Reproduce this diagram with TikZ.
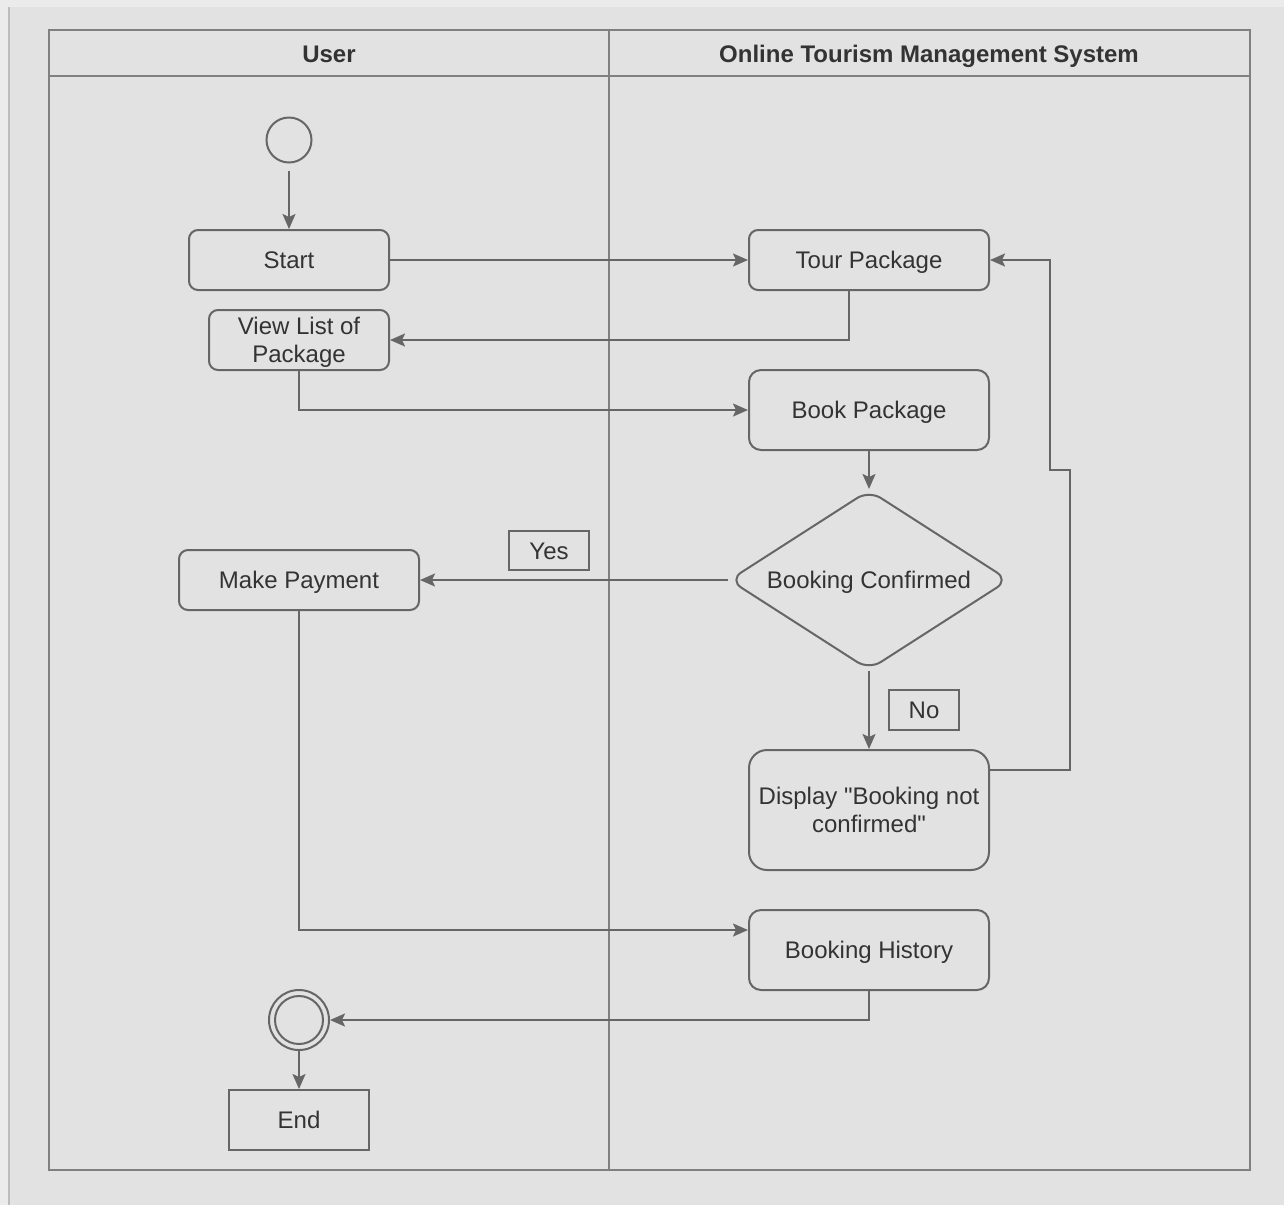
\documentclass[tikz,border=0pt]{standalone}
\usepackage{fontspec}
\setmainfont{Liberation Sans}[Ligatures=TeXOff]
\usetikzlibrary{arrows.meta,shapes.geometric}

\definecolor{pagec}{HTML}{EBEBEB}
\definecolor{bgc}{HTML}{E2E2E2}
\definecolor{edgec}{HTML}{BDBDBD}
\definecolor{poolc}{HTML}{808080}
\definecolor{linec}{HTML}{666666}
\definecolor{txtc}{HTML}{333333}

\tikzset{
  base/.style={draw=linec, line width=1pt, fill=bgc, text=txtc, align=center,
    inner sep=0pt, text height=8.6pt, text depth=0pt,
    font=\fontsize{12}{14}\selectfont},
  twoline/.style={text height=22.6pt, text depth=0pt},
  action/.style={base, rectangle, rounded corners=4.5pt},
  bigaction/.style={base, rectangle, rounded corners=6pt},
  plainbox/.style={base, rectangle},
  guard/.style={base, rectangle, line width=0.9pt},
  decision/.style={base, diamond, aspect=1.556, rounded corners=7pt},
  conn/.style={draw=linec, line width=1pt, -{Stealth[length=7.5pt,width=6.5pt,inset=1.5pt]}},
  lanehead/.style={text=txtc, text height=8.6pt, text depth=0pt,
    font=\fontsize{12}{14}\selectfont\bfseries},
}

\begin{document}
\begin{tikzpicture}[x=0.5pt, y=-0.5pt]
  % page and backdrop
  \fill[pagec] (0,0) rectangle (1284,1205);
  \fill[bgc] (8,7) rectangle (1284,1205);
  \draw[edgec, line width=1pt] (9,7) -- (9,1205);
  \useasboundingbox (0,0) rectangle (1284,1205);

  % swimlane pool
  \draw[poolc, line width=1.3pt] (49,30) rectangle (1250,1170);
  \draw[poolc, line width=1.3pt] (49,76) -- (1250,76);
  \draw[poolc, line width=1.3pt] (609,30) -- (609,1170);
  \node[lanehead] (hUser) at (329,54) {User};
  \node[lanehead] (hSys) at (929,54) {Online Tourism Management System};

  % user lane
  \node[base, circle, minimum size=22.5pt, text height=0pt] (init) at (289,140) {};
  \node[action, minimum width=100pt, minimum height=30pt] (start) at (289,260) {Start};
  \node[action, twoline, minimum width=90pt, minimum height=30pt] (view) at (299,340) {View List of\\Package};
  \node[action, minimum width=120pt, minimum height=30pt] (pay) at (299,580) {Make Payment};
  \node[base, circle, minimum size=30pt, text height=0pt] (fin) at (299,1020) {};
  \draw[linec, line width=1pt] (fin.center) circle[radius=12pt];
  \node[plainbox, minimum width=70pt, minimum height=30pt] (end) at (299,1120) {End};

  % system lane
  \node[action, minimum width=120pt, minimum height=30pt] (tour) at (869,260) {Tour Package};
  \node[bigaction, minimum width=120pt, minimum height=40pt] (book) at (869,410) {Book Package};
  \node[decision, minimum width=140pt, minimum height=90pt] (bc) at (869,580) {Booking Confirmed};
  \node[bigaction, twoline, rounded corners=9pt, minimum width=120pt, minimum height=60pt] (disp) at (869,810)
    {Display "Booking not\\confirmed"};
  \node[bigaction, minimum width=120pt, minimum height=40pt] (hist) at (869,950) {Booking History};

  % guard labels
  \node[guard, minimum width=40pt, minimum height=19.5pt] (yes) at (549,550.5) {Yes};
  \node[guard, minimum width=35pt, minimum height=20pt] (no) at (924,710) {No};

  % flows
  \draw[conn, shorten <=3.5pt] (init.south) -- (start.north);
  \draw[conn] (start.east) -- (tour.west);
  \draw[conn] ([xshift=-10pt]tour.south) |- (view.east);
  \draw[conn] (view.south) |- (book.west);
  \draw[conn] (book.south) -- (bc.north);
  \draw[conn] (bc.west) -- (pay.east);
  \draw[conn] (bc.south) -- (disp.north);
  \draw[conn] ([yshift=20pt]disp.east) -- ++(80,0) -- ++(0,-300) -- ++(-20,0) |- (tour.east);
  \draw[conn] (pay.south) |- ([yshift=10pt]hist.west);
  \draw[conn] (hist.south) |- (fin.east);
  \draw[conn] (fin.south) -- (end.north);
\end{tikzpicture}
\end{document}
